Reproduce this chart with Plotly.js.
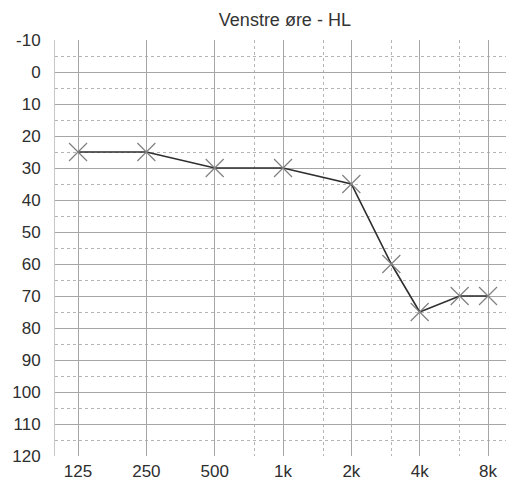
<!DOCTYPE html>
<html>
<head>
<meta charset="utf-8">
<script src="https://cdn.plot.ly/plotly-3.0.1.min.js"></script>
<style>html,body{margin:0;padding:0;background:#fff;}#chart{width:506px;height:481px;}</style>
</head>
<body>
<div id="chart"></div>
<script>
// Frequencies (Hz) and left-ear hearing levels (dB HL)
const frequencies = [125, 250, 500, 1000, 2000, 3000, 4000, 6000, 8000];
const hearingLevel = [25, 25, 30, 30, 35, 60, 75, 70, 70];

// Axis ticks
const octaveTicks = [125, 250, 500, 1000, 2000, 4000, 8000];
const octaveLabels = ["125", "250", "500", "1k", "2k", "4k", "8k"];
const halfOctaveTicks = [750, 1500, 3000, 6000];
const dbTicks = [-10, 0, 10, 20, 30, 40, 50, 60, 70, 80, 90, 100, 110, 120];
const dbLabels = ["-10", "0", "10", "20", "30", "40", "50", "60", "70", "80", "90", "100", "110", "120"];

const titleText = "Venstre øre - HL";

const trace = {
  x: frequencies,
  y: hearingLevel,
  type: "scatter",
  mode: "lines+markers",
  line: {color: "#2e2e2e", width: 1.6},
  marker: {symbol: "x-thin-open", size: 18, color: "#808080", line: {color: "#808080", width: 1.2}},
  hoverinfo: "x+y",
  showlegend: false
};

const logMin = Math.log10(125) - 0.337 * Math.log10(2);
const logMax = Math.log10(8000) + 0.263 * Math.log10(2);

const layout = {
  width: 506,
  height: 481,
  margin: {l: 55, r: 0, t: 40, b: 25},
  paper_bgcolor: "#ffffff",
  plot_bgcolor: "#ffffff",
  font: {family: "Liberation Sans, Arial, sans-serif", color: "#2e2e2e", size: 17},
  title: {
    text: titleText,
    font: {family: "Liberation Sans, Arial, sans-serif", size: 18, color: "#333333"},
    x: 0.563, xref: "container", xanchor: "center",
    y: 0.96, yref: "container", yanchor: "middle"
  },
  xaxis: {
    type: "log",
    range: [logMin, logMax],
    tickmode: "array",
    tickvals: octaveTicks,
    ticktext: octaveLabels,
    showgrid: true,
    gridcolor: "#a6a6a6",
    gridwidth: 1,
    zeroline: false,
    showline: false,
    ticks: "",
    ticklabelstandoff: 3,
    tickfont: {size: 17, color: "#2e2e2e"},
    minor: {tickmode: "array", tickvals: halfOctaveTicks, showgrid: true, gridcolor: "#b4b4b4", griddash: "dot", gridwidth: 1, ticks: ""},
    fixedrange: true
  },
  yaxis: {
    range: [120, -10],
    tickmode: "array",
    tickvals: dbTicks,
    ticktext: dbLabels,
    showgrid: true,
    gridcolor: "#a6a6a6",
    gridwidth: 1,
    zeroline: false,
    showline: true,
    linecolor: "#c8c8c8",
    linewidth: 1,
    ticks: "",
    ticklabelstandoff: 10,
    tickfont: {size: 17, color: "#2e2e2e"},
    minor: {dtick: 5, tick0: 0, showgrid: true, gridcolor: "#b4b4b4", griddash: "dot", gridwidth: 1, ticks: ""},
    fixedrange: true
  }
};

Plotly.newPlot("chart", [trace], layout, {displayModeBar: false, staticPlot: true});
</script>
</body>
</html>
